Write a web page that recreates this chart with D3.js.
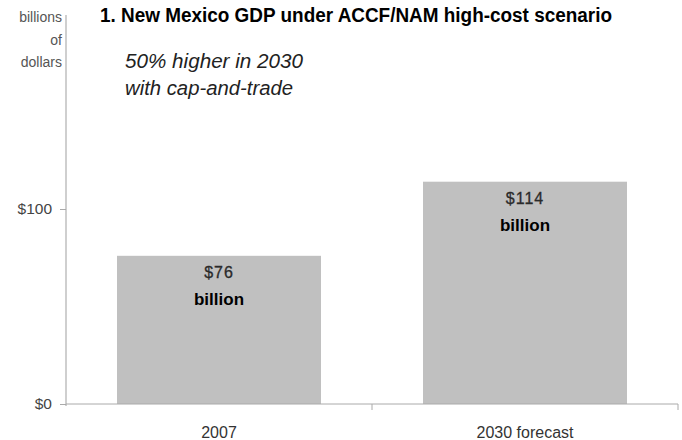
<!DOCTYPE html>
<html><head><meta charset="utf-8">
<script src="https://cdn.jsdelivr.net/npm/d3@7"></script>
<style>body{margin:0;background:#fff}</style>
</head><body>
<svg id="c" width="682" height="440"></svg>
<script>
const categories = ["2007", "2030 forecast"];
const values = [76, 114];
const valueLabels = ["$76", "$114"];
const yTicks = [0, 100];
const yTickLabels = ["$0", "$100"];
const title = "1. New Mexico GDP under ACCF/NAM high-cost scenario";
const subtitle = ["50% higher in 2030", "with cap-and-trade"];
const yUnit = ["billions", "of", "dollars"];

(function(){
const svg = d3.select("#c");
const mLeft = 66, mRight = 678, mTop = 14, mBottom = 404;
const x = d3.scaleBand().domain(categories).range([mLeft, mRight]).paddingInner(1/3).paddingOuter(1/6);
const y = d3.scaleLinear().domain([0, 200]).range([mBottom, mTop]);
const font = "Liberation Sans, Arial, sans-serif";

// bars
svg.selectAll("rect.bar").data(values).enter().append("rect")
  .attr("x", (d,i) => x(categories[i])).attr("width", x.bandwidth())
  .attr("y", d => y(d)).attr("height", d => y(0) - y(d))
  .attr("fill", "#c0c0c0");

// y axis line
svg.append("line").attr("x1", mLeft).attr("x2", mLeft).attr("y1", mTop + 1).attr("y2", mBottom + 2)
  .attr("stroke", "#cfcfcf").attr("stroke-width", 2);
// y ticks
const yAxis = d3.axisLeft(y).tickValues(yTicks).tickFormat((d,i) => yTickLabels[i]).tickSize(6).tickPadding(8);
const ga = svg.append("g").attr("transform", `translate(${mLeft},0)`).call(yAxis);
ga.select(".domain").remove();
ga.selectAll(".tick line").attr("stroke", "#aaa");
ga.selectAll(".tick text").attr("font-family", font)
  .attr("font-size", 15.5).attr("fill", "#444");

// x axis
svg.append("line").attr("x1", mLeft).attr("x2", mRight).attr("y1", mBottom).attr("y2", mBottom)
  .attr("stroke", "#aaa").attr("stroke-width", 1);
const bandStep = x.step();
svg.selectAll("line.xt").data([mLeft + bandStep, mRight]).enter().append("line")
  .attr("x1", d => d).attr("x2", d => d).attr("y1", mBottom).attr("y2", mBottom + 6)
  .attr("stroke", "#aaa");
svg.selectAll("text.xl").data(categories).enter().append("text")
  .attr("x", d => x(d) + x.bandwidth()/2).attr("y", 438).attr("text-anchor", "middle")
  .attr("font-family", font).attr("font-size", 16).attr("fill", "#333")
  .text(d => d);

// bar labels
svg.selectAll("text.vl").data(values).enter().append("text")
  .attr("x", (d,i) => x(categories[i]) + x.bandwidth()/2).attr("y", d => y(d) + 22)
  .attr("text-anchor", "middle").attr("font-family", font).attr("letter-spacing", 1)
  .attr("font-size", 16).attr("fill", "#2a2a2a").attr("stroke", "#2a2a2a").attr("stroke-width", 0.3)
  .text((d,i) => valueLabels[i]);
svg.selectAll("text.bl").data(values).enter().append("text")
  .attr("x", (d,i) => x(categories[i]) + x.bandwidth()/2).attr("y", d => y(d) + 49)
  .attr("text-anchor", "middle").attr("font-family", font)
  .attr("font-size", 17).attr("font-weight", "bold").attr("fill", "#000").text("billion");

// unit label
svg.selectAll("text.u").data(yUnit).enter().append("text")
  .attr("x", 62).attr("y", (d,i) => 22 + i*22.5).attr("text-anchor", "end")
  .attr("font-family", font)
  .attr("font-size", 14).attr("fill", "#555").text(d => d);

// title
svg.append("text").attr("x", 100).attr("y", 22)
  .attr("font-family", font)
  .attr("font-size", 19.5).attr("font-weight", "bold").attr("fill", "#000")
  .attr("textLength", 512).attr("lengthAdjust", "spacingAndGlyphs").text(title);

// subtitle
const subLens = [178, 168];
svg.selectAll("text.s").data(subtitle).enter().append("text")
  .attr("x", 125).attr("y", (d,i) => 68 + i*27)
  .attr("font-family", font).attr("font-style", "italic")
  .attr("font-size", 19.5).attr("fill", "#222")
  .attr("textLength", (d,i) => subLens[i]).attr("lengthAdjust", "spacingAndGlyphs")
  .text(d => d);
})();
</script>
</body></html>
